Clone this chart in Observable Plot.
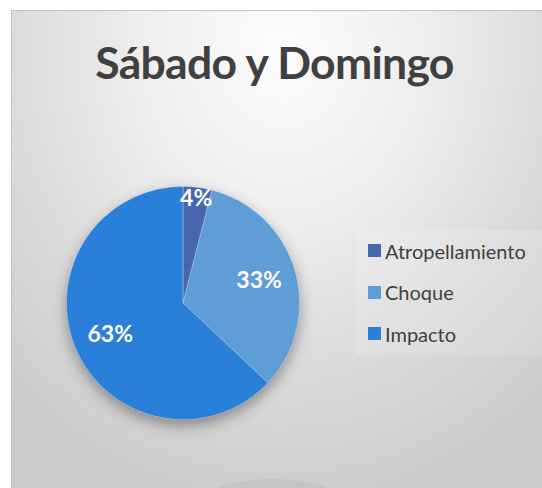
<!DOCTYPE html>
<html>
<head>
<meta charset="utf-8">
<script src="https://cdn.jsdelivr.net/npm/d3@7"></script>
<script src="https://cdn.jsdelivr.net/npm/@observablehq/plot@0.6"></script>
<style>
  html, body { margin: 0; padding: 0; background: #fff; }
  #wrap { position: relative; width: 542px; height: 488px; overflow: hidden; background: #fff; }
  #area { position: absolute; left: 11px; top: 10px; width: 540px; height: 490px;
    border: 1px solid #c4c4c4;
    background: radial-gradient(ellipse 75% 95% at 50% 8%, #fcfcfc 0%, #eeeeee 35%, #dcdcdc 65%, #cbcbcb 100%); }
  #bump { position: absolute; left: 205px; top: 479px; width: 135px; height: 40px; border-radius: 50%;
    background: radial-gradient(ellipse at 50% 40%, #c2c2c2 0%, #c6c6c6 70%, rgba(200,200,200,0) 100%); }
  #title { position: absolute; left: 11px; width: 527px; top: 40px; text-align: center;
    font-family: Lato, sans-serif; font-weight: bold; font-size: 44.5px; line-height: 1; color: #404040;
    letter-spacing: -0.7px; }
  #chart { position: absolute; left: 0; top: 0; }
  #chart svg { background: transparent !important; }
  #chart g[aria-label="line"] { filter: drop-shadow(0px 6px 7px rgba(0,0,0,0.35)); }
  #legend { position: absolute; left: 356px; top: 230px; width: 186px; height: 125px;
    background: rgba(255,255,255,0.14); }
  #legend div, #legend span { font-family: Lato, sans-serif !important; font-size: 20px !important; color: #404040 !important; }
  .lg-swatch { padding-bottom: 0 !important; height: 41.5px; display: flex !important; align-items: center; margin: 0 !important; }
  .lg-swatch svg { margin-right: 4px !important; }
</style>
</head>
<body>
<div id="wrap">
  <div id="area"></div>
  <div id="bump"></div>
  <div id="title">Sábado y Domingo</div>
  <div id="chart"></div>
  <div id="legend"></div>
</div>
<script>
const categories = ["Atropellamiento", "Choque", "Impacto"];
const values = [4, 33, 63];
const labels = ["4%", "33%", "63%"];
const colors = ["#4666AE", "#5E9DD5", "#2A7FD8"];

const arcs = d3.pie().sort(null).value(d => d)(values);

// polygon outline of each slice, in unit-circle coordinates
const slicePts = [];
arcs.forEach((a, i) => {
  const n = Math.max(4, Math.ceil((a.endAngle - a.startAngle) / 0.01));
  slicePts.push({cat: categories[i], x: 0, y: 0});
  for (let k = 0; k <= n; k++) {
    const t = a.startAngle + (a.endAngle - a.startAngle) * k / n;
    slicePts.push({cat: categories[i], x: Math.sin(t), y: Math.cos(t)});
  }
  slicePts.push({cat: categories[i], x: 0, y: 0});
});

const labelPts = arcs.map((a, i) => {
  const m = (a.startAngle + a.endAngle) / 2;
  const r = values[i] < 10 ? 0.9 : 0.68;
  return {label: labels[i], x: r * Math.sin(m), y: r * Math.cos(m)};
});

const chart = Plot.plot({
  width: 542,
  height: 488,
  margin: 0,
  style: {background: "transparent", overflow: "visible"},
  x: {domain: [-1, 1], range: [66, 299], axis: null},
  y: {domain: [-1, 1], range: [419, 186], axis: null},
  color: {domain: categories, range: colors},
  marks: [
    Plot.line(slicePts, {x: "x", y: "y", z: "cat", fill: "cat", stroke: "#ffffff", strokeOpacity: 0.35, strokeWidth: 0.8, curve: "linear"}),
    Plot.text(labelPts, {x: "x", y: "y", text: "label", fill: "white", fontFamily: "Lato, sans-serif", fontWeight: "bold", fontSize: 23})
  ]
});
document.getElementById("chart").appendChild(chart);

const legend = Plot.legend({
  color: {domain: categories, range: colors},
  legend: "swatches",
  columns: 1,
  swatchSize: 13,
  className: "lg",
  style: {margin: "0", padding: "0 0 0 12px", fontSize: "20px", fontFamily: "Lato, sans-serif", color: "#404040"}
});
document.getElementById("legend").appendChild(legend);
</script>
</body>
</html>
